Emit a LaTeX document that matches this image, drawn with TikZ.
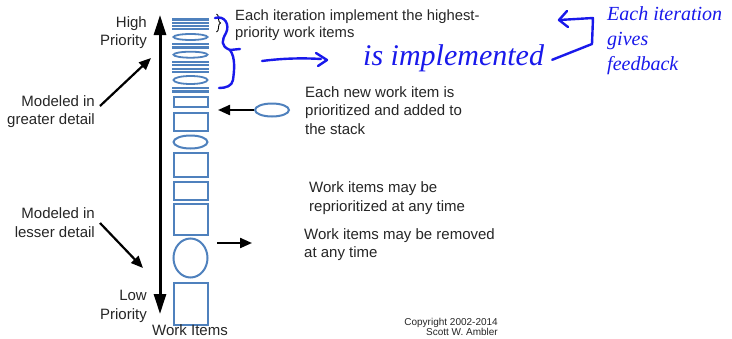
\documentclass[tikz,border=0pt]{standalone}
\usepackage{fontspec}
\setmainfont{Liberation Sans}
\newfontfamily\handfont{Liberation Serif}
\usetikzlibrary{arrows.meta,decorations.pathreplacing,shapes.geometric}
\definecolor{stackblue}{HTML}{4F81BD}
\definecolor{inkblue}{RGB}{25,25,235}
\definecolor{txt}{HTML}{262626}
\begin{document}
\begin{tikzpicture}[x=1pt,y=-1pt,
  lbl/.style={inner sep=0pt, text=txt, font=\fontsize{15}{18.5}\selectfont},
  box/.style={draw=stackblue, line width=2pt, rectangle, minimum width=34pt, inner sep=0pt},
  oval/.style={draw=stackblue, line width=2pt, ellipse, minimum width=34pt, inner sep=0pt},
  bar/.style={fill=stackblue, rectangle, minimum width=37pt, minimum height=2.2pt, inner sep=0pt},
  blk/.style={draw=black, line width=2.2pt, -{Triangle[length=12pt,width=10pt]}},
  ink/.style={draw=inkblue, line width=2.4pt, line cap=round, line join=round},
  hand/.style={inner sep=0pt, text=inkblue, font=\handfont\itshape}]
\path[use as bounding box, fill=white] (0,0) rectangle (732,338);

% dense top of stack
\foreach \y [count=\i] in {19.5,22.7,25.8,28.9,44.3,47.4,62,65.3,68.6,71.9,88.2,91.4}
  \node[bar] (b\i) at (190.5,\y) {};
\node[oval, line width=1.8pt, minimum height=6pt] (s1) at (190.5,37) {};
\node[oval, line width=1.8pt, minimum height=6pt] (s2) at (190.5,54.7) {};
\node[oval, line width=1.8pt, minimum height=8pt] (s3) at (190.5,80) {};
% lower stack
\node[box, minimum height=10pt] (r1) at (190.5,101.5) {};
\node[box, minimum height=18pt] (r2) at (190.5,121.5) {};
\node[oval, minimum height=13pt] (e1) at (190.5,142) {};
\node[box, minimum height=24pt] (r3) at (190.5,164.5) {};
\node[box, minimum height=18pt] (r4) at (190.5,190.5) {};
\node[box, minimum height=31pt] (r5) at (190.5,219) {};
\node[oval, minimum height=39pt] (e2) at (190.5,258) {};
\node[box, minimum height=42pt] (r6) at (190.5,303.5) {};

% priority axis
\coordinate (hi) at (160,15);
\coordinate (lo) at (160,314);
\draw[line width=3pt, {Triangle[length=20pt,width=12pt]}-{Triangle[length=20pt,width=12pt]}] (hi) -- (lo);

\node[lbl, align=right, anchor=north east] (high) at (147,16) {High\\Priority};
\node[lbl, align=right, anchor=north east] (low) at (147,290) {Low\\Priority};
\node[lbl, anchor=base] (wi) at (190,335) {Work Items};
\node[lbl, align=right, anchor=north east] (greater) at (95,95) {Modeled in\\greater detail};
\node[lbl, align=right, anchor=north east, font=\fontsize{15}{19.5}\selectfont] (lesser) at (95,207) {Modeled in\\lesser detail};
\coordinate (gtip) at (151,58);
\coordinate (ltip) at (143,268);
\draw[blk] (100,106) -- (gtip);
\draw[blk] (100,223) -- (ltip);

% right texts
\node[lbl, align=left, anchor=north west, font=\fontsize{14.8}{17}\selectfont] (iter) at (235,10) {Each iteration implement the highest-\\priority work items};
\draw[black, line width=0.9pt, decorate, decoration={brace, amplitude=4pt}] (216.5,14) -- (216.5,32);
\node[lbl, align=left, anchor=north west] (newtxt) at (305,86) {Each new work item is\\prioritized and added to\\the stack};
\node[oval, minimum height=13pt] (newitem) at (272,110) {};
\coordinate (newtip) at (218,110);
\draw[blk] (newitem.west) -- (newtip);
\node[lbl, align=left, anchor=north west, font=\fontsize{15}{19}\selectfont] (reprio) at (309,181) {Work items may be\\reprioritized at any time};
\node[lbl, align=left, anchor=north west] (remove) at (304,228) {Work items may be removed\\at any time};
\coordinate (rmA) at (217,243);
\coordinate (rmB) at (252,243);
\draw[blk] (rmA) -- (rmB);
\node[inner sep=0pt, text=txt, align=right, anchor=north east, font=\fontsize{10}{10.5}\selectfont] (copy) at (498,318) {Copyright 2002-2014\\Scott W. Ambler};

% handwritten annotations
\draw[ink] (215,18) .. controls (225,15) and (230,25) .. (226,33)
  .. controls (222,40) and (220,46) .. (230,50)
  .. controls (236,58) and (234,72) .. (233,80)
  .. controls (232,86) and (226,88) .. (219,88);
\draw[ink] (230,50) -- (240,49);
\draw[ink] (262,61) .. controls (285,58) and (305,58) .. (321,59);
\draw[ink] (316,53) -- (327,60) -- (318,66);
\node[hand, anchor=base west, font=\handfont\itshape\fontsize{30}{30}\selectfont] (impl) at (363,65) {is implemented};
\coordinate (c1) at (592,44);
\coordinate (c2) at (593,18);
\coordinate (c3) at (559,20);
\draw[ink] (impl.east) ++(8pt,-2pt) -- (c1) -- (c2) -- (c3);
\draw[ink] (567,11) -- (c3) -- (568,27);
\node[hand, align=left, anchor=north west, font=\handfont\itshape\fontsize{20}{25}\selectfont] (fb) at (607,6) {Each iteration\\gives\\feedback};
\end{tikzpicture}
\end{document}
